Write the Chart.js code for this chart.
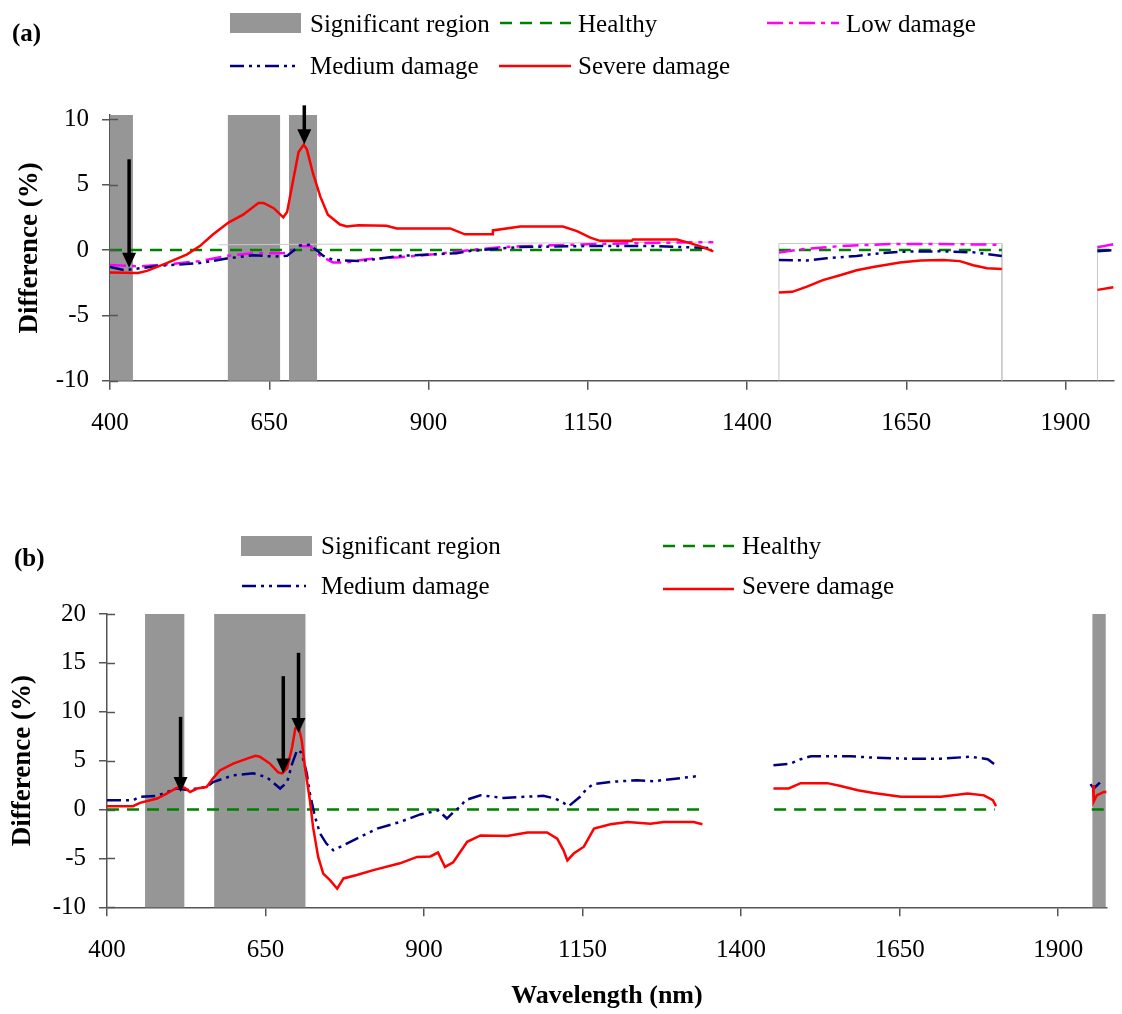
<!DOCTYPE html>
<html>
<head>
<meta charset="utf-8">
<script src="https://cdn.jsdelivr.net/npm/chart.js@4.4.1/dist/chart.umd.min.js"></script>
<style>
  body { margin: 0; background: #fff; }
  .panel { position: absolute; left: 0; width: 1122px; }
  #panelA { top: 0; height: 470px; }
  #panelB { top: 500px; height: 514px; }
</style>
</head>
<body>
<div class="panel" id="panelA"><canvas id="chartA"></canvas></div>
<div class="panel" id="panelB"><canvas id="chartB"></canvas></div>
<script>
// ---- shared axis ticks ----
var xTicks = [400, 650, 900, 1150, 1400, 1650, 1900];
var yTicksA = [-10, -5, 0, 5, 10];
var yTicksB = [-10, -5, 0, 5, 10, 15, 20];

// ---- panel (a) ----
var sevA_wl = [400, 444, 458, 489, 521, 541, 562, 586, 609, 633, 641, 657, 672, 678, 687, 696, 704, 709, 719, 730, 742, 761, 772, 790, 834, 850, 934, 957, 1000, 1001, 1044, 1111, 1133, 1154, 1169, 1219, 1221, 1290, 1305, 1326, 1347,
  1400, 1450, 1471, 1494, 1519, 1546, 1572, 1598, 1640, 1672, 1708, 1734, 1755, 1777, 1800,
  1880, 1950, 1975];
var sevA_val = [-1.73, -1.75, -1.6, -1.0, -0.33, 0.3, 1.2, 2.1, 2.7, 3.6, 3.6, 3.2, 2.5, 2.9, 5.2, 7.5, 8.05, 7.7, 5.8, 4.1, 2.7, 1.95, 1.8, 1.9, 1.85, 1.65, 1.65, 1.2, 1.2, 1.5, 1.8, 1.8, 1.45, 0.95, 0.7, 0.7, 0.8, 0.8, 0.6, 0.3, -0.1,
  null, -3.25, -3.2, -2.8, -2.3, -1.93, -1.55, -1.3, -0.95, -0.8, -0.76, -0.85, -1.17, -1.4, -1.45,
  null, -3.05, -2.85];

var medA_wl = [400, 423, 478, 541, 583, 625, 657, 678, 698, 714, 735, 750, 792, 855, 944, 965, 1044, 1148, 1253, 1347,
  1400, 1450, 1494, 1525, 1572, 1609, 1640, 1703, 1755, 1800,
  1880, 1950, 1975];
var medA_val = [-1.3, -1.55, -1.2, -1.0, -0.65, -0.4, -0.5, -0.45, 0.35, 0.4, -0.45, -0.75, -0.85, -0.45, -0.25, -0.07, 0.23, 0.3, 0.3, 0.15,
  null, -0.76, -0.8, -0.63, -0.45, -0.25, -0.13, -0.1, -0.18, -0.45,
  null, -0.1, 0.0];

var lowA_wl = [400, 447, 489, 541, 583, 625, 667, 682, 695, 714, 730, 750, 772, 803, 855, 908, 976, 1018, 1096, 1201, 1331, 1347,
  1400, 1450, 1483, 1546, 1624, 1703, 1800,
  1880, 1950, 1975];
var lowA_val = [-1.15, -1.25, -1.1, -0.85, -0.45, -0.25, -0.25, -0.2, 0.3, 0.3, -0.45, -0.95, -0.95, -0.7, -0.55, -0.33, 0.05, 0.23, 0.37, 0.5, 0.6, 0.6,
  null, -0.2, 0.05, 0.3, 0.46, 0.46, 0.4,
  null, 0.2, 0.45];

var healthyA_wl = [400, 1345, 1400, 1450, 1800, 1880, 1950, 1976];
var healthyA_val = [0, 0, null, 0, 0, null, 0, 0];

// faint unlabelled reference trace
var traceA_wl = [570, 1345, 1400, 1450, 1450, 1800, 1800, 1880, 1950, 1950, 1976];
var traceA_val = [0.4, 0.6, null, -10, 0.5, 0.5, -10, null, -10, 0.35, 0.35];

var sigA = [[400, 436], [585, 667], [681, 725]];
var arrowA_wl = [430, 705];
var arrowA_from = [6.94, 11.07];
var arrowA_to = [-1.35, 8.09];

// ---- panel (b) ----
var sevB_wl = [400, 441, 452, 479, 494, 510, 518, 523, 531, 542, 557, 567, 578, 599, 621, 634, 641, 657, 670, 676, 684, 692, 697, 702, 707, 712, 720, 725, 733, 741, 752, 763, 773, 794, 820, 862, 889, 910, 922, 933, 946, 968, 989, 1031, 1063, 1094, 1110, 1120, 1126, 1136, 1152, 1168, 1194, 1221, 1257, 1278, 1325, 1339,
  1400, 1451, 1475, 1494, 1536, 1557, 1584, 1609, 1652, 1715, 1757, 1783, 1797, 1802,
  1880, 1955, 1956, 1961, 1972, 1976];
var sevB_val = [0.34, 0.34, 0.68, 1.12, 1.63, 2.2, 2.3, 2.2, 1.8, 2.15, 2.3, 3.17, 4.0, 4.7, 5.2, 5.5, 5.4, 4.7, 3.8, 3.7, 4.2, 6.4, 8.3, 8.5, 7.1, 4.4, 0.95, -1.8, -4.85, -6.55, -7.25, -8.1, -7.05, -6.7, -6.2, -5.5, -4.85, -4.8, -4.4, -5.87, -5.4, -3.3, -2.65, -2.7, -2.35, -2.35, -2.97, -4.17, -5.2, -4.5, -3.8, -1.95, -1.5, -1.27, -1.45, -1.27, -1.27, -1.5,
  null, 2.15, 2.15, 2.7, 2.7, 2.4, 1.97, 1.7, 1.3, 1.3, 1.63, 1.45, 0.95, 0.34,
  null, 2.5, 0.8, 1.46, 1.8, 1.8];

var medB_wl = [400, 441, 452, 479, 510, 526, 557, 567, 599, 631, 652, 673, 684, 692, 700, 707, 715, 720, 728, 736, 746, 757, 773, 799, 826, 862, 894, 915, 922, 936, 949, 957, 965, 989, 1025, 1057, 1088, 1107, 1120, 1128, 1146, 1157, 1167, 1194, 1236, 1262, 1289, 1336,
  1400, 1451, 1478, 1494, 1510, 1573, 1609, 1662, 1715, 1762, 1789, 1800,
  1880, 1951, 1956, 1967, 1972];
var medB_val = [0.95, 0.95, 1.3, 1.4, 2.15, 2.0, 2.3, 2.8, 3.5, 3.7, 3.3, 2.15, 2.8, 4.7, 6.1, 5.8, 3.7, 1.63, -0.75, -2.45, -3.48, -4.17, -3.65, -2.8, -1.95, -1.27, -0.5, -0.2, -0.07, -0.92, -0.1, 0.27, 0.95, 1.46, 1.19, 1.3, 1.4, 1.12, 0.68, 0.34, 1.3, 2.15, 2.6, 2.83, 3.0, 2.9, 3.1, 3.45,
  null, 4.53, 4.7, 5.15, 5.45, 5.45, 5.3, 5.2, 5.2, 5.4, 5.15, 4.6,
  null, 2.6, 2.15, 2.83, 2.7];

var healthyB_wl = [400, 1345, 1400, 1452, 1800, 1880, 1953, 1972];
var healthyB_val = [0, 0, null, 0, 0, null, 0, 0];

var sigB = [[460, 522], [569, 713], [1954, 1975]];
var arrowB_wl = [516, 678, 702];
var arrowB_from = [9.48, 13.64, 16.03];
var arrowB_to = [1.8, 3.68, 7.84];

var FONT = "'Liberation Serif', 'Times New Roman', serif";
var AXIS = '#555555';
var RED = '#ff0000', NAVY = '#000080', MAGENTA = '#ff00ff', GREEN = '#008000', SHADE = '#969696';
var DASH_HEALTHY = [12, 8];
var DASH_LOW = [16, 6, 4, 6];
var DASH_MED = [14, 5, 3, 5, 3, 5];

function pts(wl, val) {
  return wl.map(function(w, i) { return { x: w, y: val[i] }; });
}

function line(label, wl, val, color, dash, width) {
  return {
    label: label,
    data: pts(wl, val),
    borderColor: color,
    borderWidth: width,
    borderDash: dash,
    pointRadius: 0,
    tension: 0,
    spanGaps: false,
    fill: false
  };
}

// shaded bands, arrows, inner tick marks, legend and panel letter
var figureExtras = {
  id: 'figureExtras',
  beforeDatasetsDraw: function(chart, args, opts) {
    var xs = chart.scales.x, area = chart.chartArea, ctx = chart.ctx;
    ctx.save();
    ctx.fillStyle = SHADE;
    opts.regions.forEach(function(r) {
      var x0 = xs.getPixelForValue(r[0]), x1 = xs.getPixelForValue(r[1]);
      ctx.fillRect(x0, area.top, x1 - x0, area.bottom - area.top);
    });
    ctx.restore();
  },
  afterDraw: function(chart, args, opts) {
    var xs = chart.scales.x, ys = chart.scales.y, ctx = chart.ctx;
    ctx.save();

    // small tick marks on the inner side of the y axis
    ctx.strokeStyle = AXIS;
    ctx.lineWidth = 1.5;
    ys.ticks.forEach(function(t) {
      var py = Math.round(ys.getPixelForValue(t.value)) + 0.5;
      ctx.beginPath();
      ctx.moveTo(xs.left, py);
      ctx.lineTo(xs.left + 8, py);
      ctx.stroke();
    });

    // arrows
    ctx.fillStyle = '#000';
    ctx.strokeStyle = '#000';
    opts.arrows.wl.forEach(function(w, i) {
      var px = xs.getPixelForValue(w);
      var y0 = ys.getPixelForValue(opts.arrows.from[i]);
      var y1 = ys.getPixelForValue(opts.arrows.to[i]);
      ctx.lineWidth = 3.5;
      ctx.beginPath();
      ctx.moveTo(px, y0);
      ctx.lineTo(px, y1 - 12);
      ctx.stroke();
      ctx.beginPath();
      ctx.moveTo(px - 7, y1 - 15);
      ctx.lineTo(px + 7, y1 - 15);
      ctx.lineTo(px, y1);
      ctx.closePath();
      ctx.fill();
    });

    // legend
    ctx.font = '25px ' + FONT;
    ctx.textBaseline = 'alphabetic';
    ctx.textAlign = 'left';
    opts.legend.forEach(function(item) {
      if (item.box) {
        ctx.fillStyle = SHADE;
        ctx.fillRect(item.x0, item.y - 10, item.x1 - item.x0, 20);
      } else {
        ctx.strokeStyle = item.color;
        ctx.lineWidth = 2.5;
        ctx.setLineDash(item.dash);
        ctx.beginPath();
        ctx.moveTo(item.x0, item.y);
        ctx.lineTo(item.x1, item.y);
        ctx.stroke();
        ctx.setLineDash([]);
      }
      ctx.fillStyle = '#000';
      ctx.fillText(item.text, item.tx, item.ty);
    });

    // panel letter
    ctx.font = 'bold 25px ' + FONT;
    ctx.fillText(opts.letter.text, opts.letter.x, opts.letter.y);
    ctx.restore();
  }
};

function plainLabel(v) { return String(v); }

function scales(cfg) {
  return {
    x: {
      type: 'linear',
      min: 400,
      max: cfg.xMax,
      afterBuildTicks: function(s) { s.ticks = xTicks.map(function(v) { return { value: v }; }); },
      afterFit: function(s) { s.height = cfg.xHeight; },
      border: { color: AXIS, width: 1.5 },
      grid: { drawOnChartArea: false, color: AXIS, lineWidth: 1.5, tickLength: 9 },
      ticks: { color: '#000', padding: cfg.xPad, maxRotation: 0, callback: plainLabel, font: { family: FONT, size: 25 } },
      title: cfg.xTitle ? {
        display: true, text: cfg.xTitle, color: '#000',
        padding: { top: 0, bottom: 2 },
        font: { family: FONT, size: 26, weight: 'bold' }
      } : { display: false }
    },
    y: {
      type: 'linear',
      min: -10,
      max: cfg.yMax,
      afterBuildTicks: function(s) { s.ticks = cfg.yTicks.map(function(v) { return { value: v }; }); },
      afterFit: function(s) { s.width = cfg.yWidth; },
      border: { color: AXIS, width: 1.5 },
      grid: { drawOnChartArea: false, color: AXIS, lineWidth: 1.5, tickLength: 8 },
      ticks: { color: '#000', padding: 13, callback: plainLabel, font: { family: FONT, size: 25 } },
      title: {
        display: true, text: 'Difference (%)', color: '#000',
        padding: { top: cfg.yTitlePad, bottom: 0 },
        font: { family: FONT, size: 27, weight: 'bold' }
      }
    }
  };
}

var chartA = new Chart(document.getElementById('chartA'), {
  type: 'line',
  data: {
    datasets: [
      line('Severe damage', sevA_wl, sevA_val, RED, [], 2.5),
      line('Medium damage', medA_wl, medA_val, NAVY, DASH_MED, 2.5),
      line('Low damage', lowA_wl, lowA_val, MAGENTA, DASH_LOW, 2.5),
      line('Healthy', healthyA_wl, healthyA_val, GREEN, DASH_HEALTHY, 2.5),
      line('', traceA_wl, traceA_val, '#c8c8c8', [], 1)
    ]
  },
  options: {
    responsive: true,
    maintainAspectRatio: false,
    animation: false,
    events: [],
    layout: { padding: { top: 115, right: 8, left: 0, bottom: 0 } },
    scales: scales({ xMax: 1976, xHeight: 89.3, xPad: 19, yMax: 10.33, yTicks: yTicksA, yWidth: 110, yTitlePad: 14 }),
    plugins: {
      legend: { display: false },
      tooltip: { enabled: false },
      figureExtras: {
        regions: sigA,
        arrows: { wl: arrowA_wl, from: arrowA_from, to: arrowA_to },
        letter: { text: '(a)', x: 12, y: 41 },
        legend: [
          { box: true, x0: 230, x1: 301, y: 23, text: 'Significant region', tx: 310, ty: 32 },
          { color: GREEN, dash: DASH_HEALTHY, x0: 500, x1: 571, y: 23, text: 'Healthy', tx: 578, ty: 32 },
          { color: MAGENTA, dash: DASH_LOW, x0: 767, x1: 839, y: 23, text: 'Low damage', tx: 846, ty: 32 },
          { color: NAVY, dash: DASH_MED, x0: 230, x1: 296, y: 66, text: 'Medium damage', tx: 310, ty: 74 },
          { color: RED, dash: [], x0: 499, x1: 571, y: 66, text: 'Severe damage', tx: 578, ty: 74 }
        ]
      }
    }
  },
  plugins: [figureExtras]
});

var chartB = new Chart(document.getElementById('chartB'), {
  type: 'line',
  data: {
    datasets: [
      line('Severe damage', sevB_wl, sevB_val, RED, [], 2.5),
      line('Medium damage', medB_wl, medB_val, NAVY, DASH_MED, 2.5),
      line('Healthy', healthyB_wl, healthyB_val, GREEN, DASH_HEALTHY, 2.5)
    ]
  },
  options: {
    responsive: true,
    maintainAspectRatio: false,
    animation: false,
    events: [],
    layout: { padding: { top: 114, right: 15, left: 0, bottom: 0 } },
    scales: scales({ xMax: 1977, xHeight: 106.7, xPad: 19, xTitle: 'Wavelength (nm)', yMax: 20, yTicks: yTicksB, yWidth: 107, yTitlePad: 7 }),
    plugins: {
      legend: { display: false },
      tooltip: { enabled: false },
      figureExtras: {
        regions: sigB,
        arrows: { wl: arrowB_wl, from: arrowB_from, to: arrowB_to },
        letter: { text: '(b)', x: 14, y: 66 },
        legend: [
          { box: true, x0: 241, x1: 312, y: 46, text: 'Significant region', tx: 321, ty: 54 },
          { color: GREEN, dash: DASH_HEALTHY, x0: 663, x1: 734, y: 46, text: 'Healthy', tx: 742, ty: 54 },
          { color: NAVY, dash: DASH_MED, x0: 242, x1: 306, y: 86, text: 'Medium damage', tx: 321, ty: 94 },
          { color: RED, dash: [], x0: 663, x1: 734, y: 89, text: 'Severe damage', tx: 742, ty: 94 }
        ]
      }
    }
  },
  plugins: [figureExtras]
});
</script>
</body>
</html>
